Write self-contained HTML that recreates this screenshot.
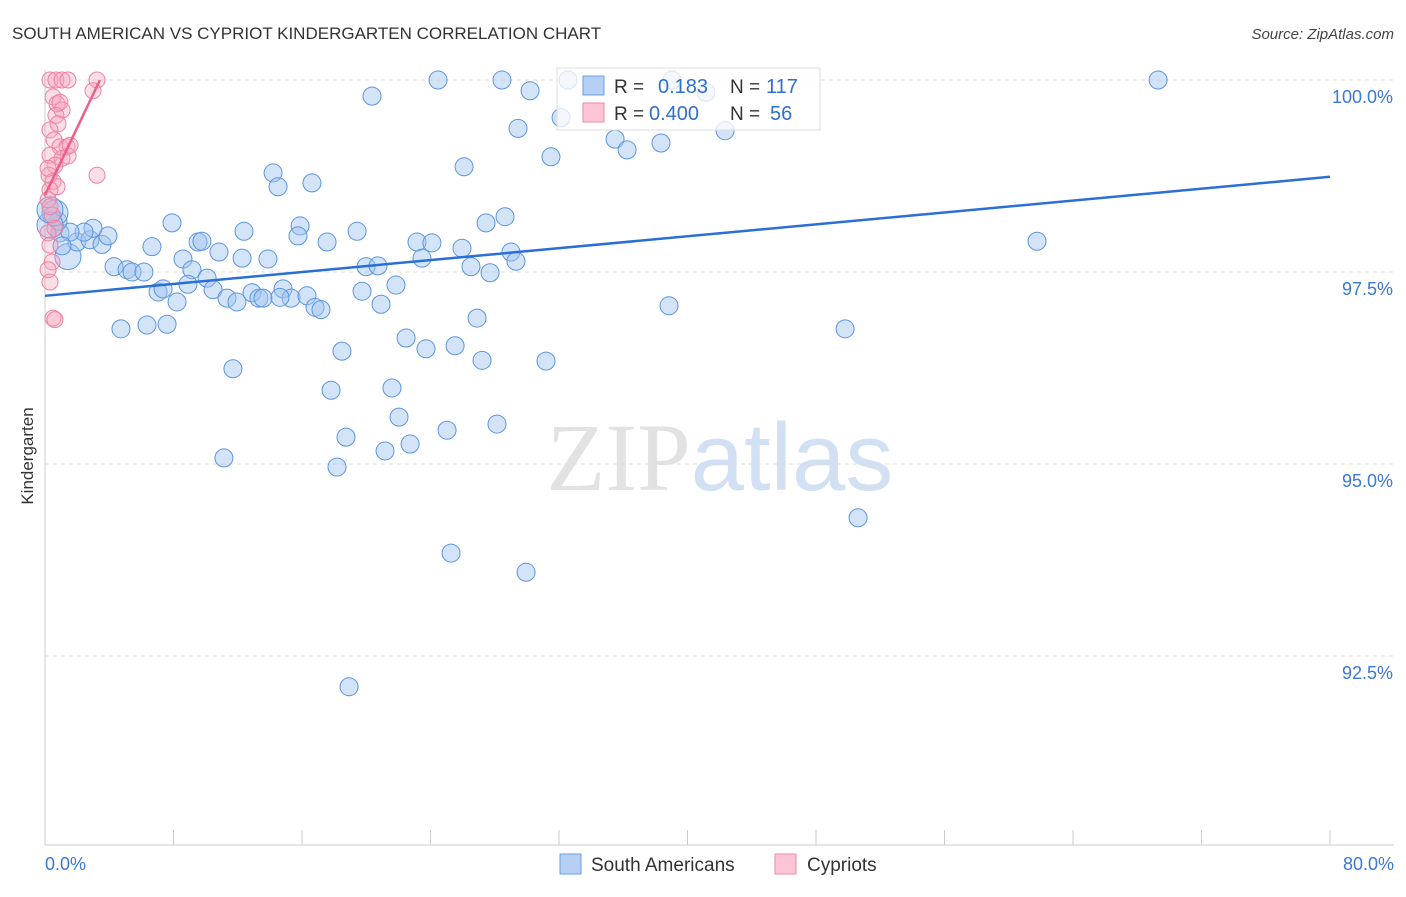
<!DOCTYPE html>
<html><head><meta charset="utf-8"><style>
body{margin:0;background:#fff;font-family:"Liberation Sans",sans-serif}
text{font-family:"Liberation Sans",sans-serif}
</style></head><body>
<svg id="chart" width="1406" height="892" xmlns="http://www.w3.org/2000/svg">
<text x="12" y="39" font-size="17" fill="#333">SOUTH AMERICAN VS CYPRIOT KINDERGARTEN CORRELATION CHART</text>
<text x="1394" y="39" font-size="15" fill="#444" font-style="italic" text-anchor="end">Source: ZipAtlas.com</text>
<text x="720" y="490" font-size="96" text-anchor="middle"><tspan fill="#e2e2e2" font-family="Liberation Serif">ZIP</tspan><tspan fill="#d2e0f4">atlas</tspan></text>
<g id="grid"></g>
<g id="axes"></g>
<g id="points"></g>
<g id="trends"></g>
<text transform="translate(33,456) rotate(-90)" font-size="17" fill="#333" text-anchor="middle">Kindergarten</text>
<g>
<rect x="557" y="68" width="263" height="62" fill="#fff" fill-opacity="0.75" stroke="#ddd"/>
<rect x="583" y="76" width="21" height="19" fill="#b5cff5" stroke="#6a9fe0"/>
<rect x="583" y="103" width="21" height="19" fill="#fcc5d5" stroke="#f08aa8"/>
<text x="614" y="93" font-size="19" fill="#333">R =</text><text x="658" y="93" font-size="20" fill="#2f6fd0">0.183</text>
<text x="730" y="93" font-size="19" fill="#333">N =</text><text x="766" y="93" font-size="20" fill="#2f6fd0">117</text>
<text x="614" y="120" font-size="19" fill="#333">R =</text><text x="649" y="120" font-size="20" fill="#2f6fd0">0.400</text>
<text x="730" y="120" font-size="19" fill="#333">N =</text><text x="770" y="120" font-size="20" fill="#2f6fd0">56</text>
</g>
<g>
<rect x="560" y="854" width="21" height="20" fill="#b5cff5" stroke="#6a9fe0"/>
<text x="591" y="871" font-size="19" fill="#333">South Americans</text>
<rect x="775" y="854" width="21" height="20" fill="#fcc5d5" stroke="#f08aa8"/>
<text x="807" y="871" font-size="19" fill="#333">Cypriots</text>
</g>
</svg>
<script>
const xTicks=[0,10,20,30,40,50,60,70,80];
const yTicks=[92.5,95,97.5,100];
const yTickLabels=["92.5%","95.0%","97.5%","100.0%"];
const xAxisLabels=["0.0%","80.0%"];
const blueX=[24.47,28.45,32.56,39.04,69.30,20.36,30.20,41.15,29.45,32.13,35.49,36.24,38.35,31.50,42.34,26.09,14.20,14.51,16.62,7.91,12.39,15.88,15.75,19.43,17.56,27.46,28.64,6.66,9.53,9.77,10.83,12.27,13.88,8.59,9.15,10.09,19.99,20.73,23.16,24.09,25.96,23.47,26.52,27.71,29.01,29.32,61.76,4.30,5.11,5.42,6.16,7.04,7.35,8.22,8.90,10.46,11.33,11.95,12.89,13.32,13.57,14.82,15.32,16.31,16.81,17.18,19.74,20.92,21.85,26.90,38.85,4.73,6.35,7.60,11.70,18.49,22.48,23.72,25.53,27.21,31.19,49.81,17.81,21.60,22.04,18.74,21.17,22.73,25.03,28.14,11.14,18.18,50.62,25.28,29.95,18.93,1.43,0.93,1.99,2.80,3.55,3.92,2.99,2.43,1.56,0.81,0.62,0.31,1.06,14.63,0.31];
const blueY=[100,100,100,100,100,99.79,99.86,99.84,99.37,99.51,99.23,99.09,99.18,99.00,99.34,98.87,98.79,98.61,98.66,98.14,98.03,98.10,97.97,98.03,97.89,98.14,98.22,97.83,97.89,97.90,97.76,97.68,97.67,97.67,97.53,97.42,97.57,97.58,97.89,97.88,97.81,97.68,97.57,97.49,97.76,97.64,97.90,97.57,97.53,97.50,97.50,97.24,97.28,97.11,97.34,97.27,97.16,97.11,97.23,97.16,97.16,97.28,97.16,97.19,97.04,97.01,97.25,97.08,97.33,96.90,97.06,96.76,96.81,96.82,96.24,96.47,96.64,96.50,96.54,96.35,96.34,96.76,95.96,95.99,95.61,95.35,95.17,95.26,95.44,95.52,95.08,94.96,94.30,93.84,93.59,92.10,97.70,98.01,97.89,97.92,97.86,97.97,98.07,98.02,98.02,98.16,98.27,98.11,97.84,97.17,98.31];
const pinkX=[0.31,0.68,1.06,1.43,3.24,2.99,0.50,0.75,0.93,1.06,0.68,0.81,0.31,0.56,0.93,1.37,0.31,1.06,1.43,0.62,0.25,0.50,0.75,3.24,0.31,0.19,0.44,0.62,0.19,0.31,0.44,0.19,0.31,0.50,0.62,1.56,0.19,0.31];
const pinkY=[100,100,100,100,100,99.86,99.78,99.69,99.71,99.61,99.54,99.43,99.35,99.22,99.13,99.13,99.02,98.98,99.01,98.89,98.76,98.68,98.61,98.76,98.57,98.44,98.24,98.07,98.01,97.85,97.63,97.53,97.37,96.90,96.88,99.15,98.85,98.35];
const blueTrend=[[0,97.19],[80,98.74]];
const pinkTrend=[[0,98.50],[3.42,100]];
const X=v=>45+v/80*1285;
const Y=v=>80+(100-v)/2.5*192;
const NS="http://www.w3.org/2000/svg";
function mk(tag,attrs,parent){const e=document.createElementNS(NS,tag);for(const k in attrs)e.setAttribute(k,attrs[k]);parent.appendChild(e);return e;}
const grid=document.getElementById('grid'),axes=document.getElementById('axes'),pts=document.getElementById('points'),tr=document.getElementById('trends');
yTicks.forEach((t,i)=>{
  const l=mk('line',{x1:45,x2:1394,y1:Y(t),y2:Y(t),stroke:'#ddd','stroke-dasharray':'4,4'},grid);
  
  
  const tx=mk('text',{x:1393,y:Y(t)+23,'font-size':18,fill:'#3a78d8','text-anchor':'end'},axes);
  tx.textContent=yTickLabels[i];
  
  
});
const xl=mk('line',{x1:45,x2:1394,y1:845,y2:845,stroke:'#ccc'},axes);


const yl=mk('line',{x1:45,x2:45,y1:70,y2:845,stroke:'#ccc'},axes);


for(let v=0;v<=80;v+=8){
  const t=mk('line',{x1:X(v),x2:X(v),y1:830,y2:845,stroke:'#ccc'},axes);
  
  
}
const x0=mk('text',{x:45,y:870,'font-size':18,fill:'#3a78d8'},axes);x0.textContent=xAxisLabels[0];


const x1=mk('text',{x:1394,y:870,'font-size':18,fill:'#3a78d8','text-anchor':'end'},axes);x1.textContent=xAxisLabels[1];


blueX.forEach((v,i)=>{
  const big=(i===96||i===107||i===106||i===110);
  const c=mk('circle',{cx:X(v),cy:Y(blueY[i]),r:big?13:9,fill:'rgba(160,196,240,0.45)',stroke:'#5b95e0','stroke-width':1},pts);
  
  
});
pinkX.forEach((v,i)=>{
  const c=mk('circle',{cx:X(v),cy:Y(pinkY[i]),r:8,fill:'rgba(245,160,185,0.35)',stroke:'#ee82a2','stroke-width':1},pts);
  
  
});
const bl=mk('line',{x1:X(blueTrend[0][0]),y1:Y(blueTrend[0][1]),x2:X(blueTrend[1][0]),y2:Y(blueTrend[1][1]),stroke:'#2a6fd6','stroke-width':2.5},tr);


const pl=mk('line',{x1:X(pinkTrend[0][0]),y1:Y(pinkTrend[0][1]),x2:X(pinkTrend[1][0]),y2:Y(pinkTrend[1][1]),stroke:'#ec5f8a','stroke-width':2.5},tr);


</script>
</body></html>
